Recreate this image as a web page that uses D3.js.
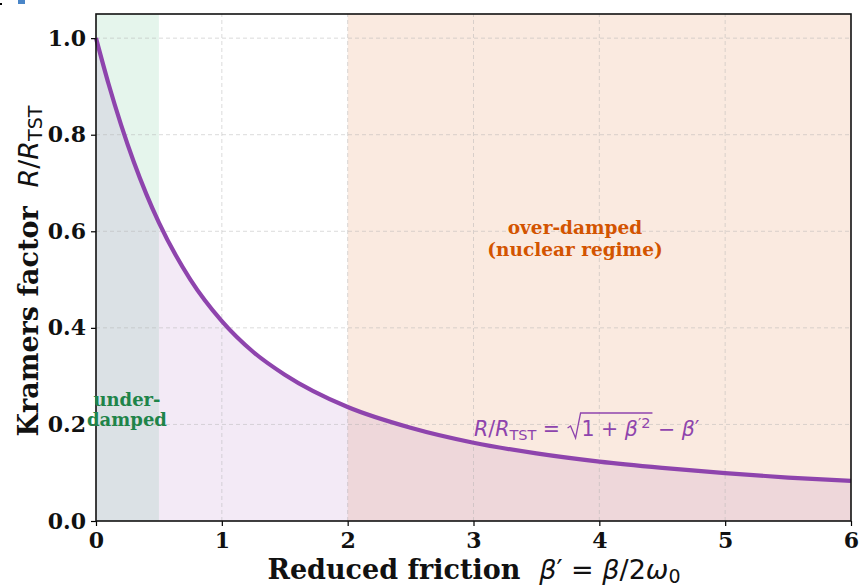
<!DOCTYPE html>
<html>
<head>
<meta charset="utf-8">
<script src="https://cdn.jsdelivr.net/npm/d3@7"></script>
<style>
  body { margin: 0; background: #fff; }
  svg { display: block; }
  text { white-space: pre; }
</style>
</head>
<body>
<svg id="chart" width="861" height="587"></svg>
<script>
// values
const betaVals = [0, 0.1, 0.2, 0.3, 0.4, 0.5, 0.75, 1, 1.25, 1.5, 2, 2.5, 3, 3.5, 4, 4.5, 5, 5.5, 6];
const kramersVals = [1.0, 0.905, 0.82, 0.744, 0.677, 0.618, 0.50, 0.414, 0.35, 0.303, 0.236, 0.193, 0.162, 0.140, 0.123, 0.110, 0.099, 0.090, 0.083];
const xTicks = [0, 1, 2, 3, 4, 5, 6];
const yTicks = [0.0, 0.2, 0.4, 0.6, 0.8, 1.0];
const underDampedRange = [0, 0.5];
const overDampedRange = [2, 6];

const pts = betaVals.map((b, i) => ({ b: b, k: kramersVals[i] }));

const margin = { left: 96, right: 10, top: 14, bottom: 66 };
const W = 861, H = 587;
const svg = d3.select('#chart');

const x = d3.scaleLinear().domain([0, 6]).range([margin.left, W - margin.right]);
const y = d3.scaleLinear().domain([0, 1.05]).range([H - margin.bottom, margin.top]);

const serif = "'DejaVu Serif', serif";
const sans = "'DejaVu Sans', sans-serif";
const purple = '#8e44ad';

// regime shading
svg.append('rect')
    .attr('x', x(underDampedRange[0])).attr('y', y(1.05))
    .attr('width', x(underDampedRange[1]) - x(underDampedRange[0]))
    .attr('height', y(0) - y(1.05))
    .attr('fill', '#27ae60').attr('fill-opacity', 0.12);

svg.append('rect')
    .attr('x', x(overDampedRange[0])).attr('y', y(1.05))
    .attr('width', x(overDampedRange[1]) - x(overDampedRange[0]))
    .attr('height', y(0) - y(1.05))
    .attr('fill', '#d35400').attr('fill-opacity', 0.12);

// area under the curve
const area = d3.area()
    .x(d => x(d.b)).y0(y(0)).y1(d => y(d.k))
    .curve(d3.curveMonotoneX);
svg.append('path').datum(pts)
    .attr('d', area)
    .attr('fill', purple).attr('fill-opacity', 0.11);

// grid
const grid = svg.append('g');
grid.selectAll('.gx').data(xTicks.slice(1, -1)).enter().append('line')
    .attr('x1', d => x(d)).attr('x2', d => x(d))
    .attr('y1', y(0)).attr('y2', y(1.05))
    .attr('stroke', '#b0b0b0').attr('stroke-opacity', 0.45)
    .attr('stroke-dasharray', '4,3').attr('stroke-width', 1);
grid.selectAll('.gy').data(yTicks.slice(1)).enter().append('line')
    .attr('x1', x(0)).attr('x2', x(6))
    .attr('y1', d => y(d)).attr('y2', d => y(d))
    .attr('stroke', '#b0b0b0').attr('stroke-opacity', 0.45)
    .attr('stroke-dasharray', '4,3').attr('stroke-width', 1);

// curve
const line = d3.line().x(d => x(d.b)).y(d => y(d.k)).curve(d3.curveMonotoneX);
svg.append('path').datum(pts)
    .attr('d', line)
    .attr('fill', 'none')
    .attr('stroke', purple).attr('stroke-width', 4.2);

// axes
const xAxis = svg.append('g')
    .attr('transform', `translate(0,${y(0)})`)
    .call(d3.axisBottom(x).tickValues(xTicks).tickFormat(d3.format('d')).tickSize(5).tickPadding(6));
const yAxis = svg.append('g')
    .attr('transform', `translate(${x(0)},0)`)
    .call(d3.axisLeft(y).tickValues(yTicks).tickFormat(d3.format('.1f')).tickSize(5).tickPadding(5));
[xAxis, yAxis].forEach(a => {
    a.select('.domain').remove();
    a.selectAll('line').attr('stroke', '#000').attr('stroke-width', 1.2);
    a.selectAll('text')
        .attr('font-family', serif).attr('font-weight', 'bold')
        .attr('font-size', 22).attr('fill', '#111');
});

// frame
svg.append('rect')
    .attr('x', x(0)).attr('y', y(1.05))
    .attr('width', x(6) - x(0)).attr('height', y(0) - y(1.05))
    .attr('fill', 'none').attr('stroke', '#111').attr('stroke-width', 1.6);

// regime labels
const under = svg.append('text')
    .attr('font-family', serif).attr('font-weight', 'bold')
    .attr('font-size', 18).attr('fill', '#1e8449').attr('text-anchor', 'middle');
under.append('tspan').attr('x', 127).attr('y', 406).text('under-');
under.append('tspan').attr('x', 127).attr('y', 426).text('damped');

const over = svg.append('text')
    .attr('font-family', serif).attr('font-weight', 'bold')
    .attr('font-size', 18.5).attr('fill', '#d35400').attr('text-anchor', 'middle');
over.append('tspan').attr('x', 575).attr('y', 234).text('over-damped');
over.append('tspan').attr('x', 575).attr('y', 256).text('(nuclear regime)');

// formula label, placed piece by piece
function putPieces(g, x0, y0, pieces) {
    let cx = x0;
    pieces.forEach(p => {
        const t = g.append('text')
            .attr('x', cx).attr('y', y0 + (p.dy || 0))
            .attr('font-family', p.family || sans)
            .attr('font-style', p.it ? 'italic' : 'normal')
            .attr('font-size', p.size)
            .attr('fill', p.fill)
            .text(p.t);
        cx += t.node().getComputedTextLength();
    });
    return cx;
}

const fx = 474, fy = 436, fs = 20.5, ss = 14.5;
const fg = svg.append('g');
const P = (t, o) => Object.assign({ t: t, size: fs, fill: purple }, o || {});
const end1 = putPieces(fg, fx, fy, [
    P('R', { it: true }), P('/'), P('R', { it: true }),
    P('TST', { size: ss, dy: 4 }), P(' = ')
]);
const radX = end1 + 1;
const end2 = putPieces(fg, radX + 14, fy, [
    P('1 + '), P('β', { it: true }), P('′2', { size: ss, dy: -8 })
]);
const barY = fy - 23;
fg.append('path')
    .attr('d', `M${radX},${fy - 8} L${radX + 3},${fy - 10} L${radX + 8},${fy + 2} L${radX + 13},${barY} L${end2 + 2},${barY}`)
    .attr('fill', 'none').attr('stroke', purple).attr('stroke-width', 1.3);
putPieces(fg, end2 + 1, fy, [
    P(' − '), P('β', { it: true }), P('′')
]);

// axis titles
const xt = svg.append('text')
    .attr('x', 474).attr('y', 579).attr('text-anchor', 'middle')
    .attr('font-size', 27).attr('fill', '#111');
xt.append('tspan').attr('font-family', serif).attr('font-weight', 'bold').text('Reduced friction  ');
xt.append('tspan').attr('font-family', sans).attr('font-style', 'italic').text('β');
xt.append('tspan').attr('font-family', sans).text('′ = ');
xt.append('tspan').attr('font-family', sans).attr('font-style', 'italic').text('β');
xt.append('tspan').attr('font-family', sans).text('/2');
xt.append('tspan').attr('font-family', sans).attr('font-style', 'italic').text('ω');
xt.append('tspan').attr('font-family', sans).attr('font-size', 19).attr('dy', 4).text('0');

const yt = svg.append('text')
    .attr('transform', 'translate(38,271) rotate(-90)')
    .attr('text-anchor', 'middle')
    .attr('font-size', 27).attr('fill', '#111');
yt.append('tspan').attr('font-family', serif).attr('font-weight', 'bold').text('Kramers factor  ');
yt.append('tspan').attr('font-family', sans).attr('font-style', 'italic').text('R');
yt.append('tspan').attr('font-family', sans).text('/');
yt.append('tspan').attr('font-family', sans).attr('font-style', 'italic').text('R');
yt.append('tspan').attr('font-family', sans).attr('font-size', 19).attr('dy', 4).text('TST');

// small marks at the top-left corner of the picture
svg.append('rect').attr('x', 18).attr('y', 0).attr('width', 7).attr('height', 4).attr('fill', '#4a86c8');
svg.append('rect').attr('x', 0).attr('y', 3).attr('width', 2).attr('height', 2).attr('fill', '#000');
</script>
</body>
</html>
